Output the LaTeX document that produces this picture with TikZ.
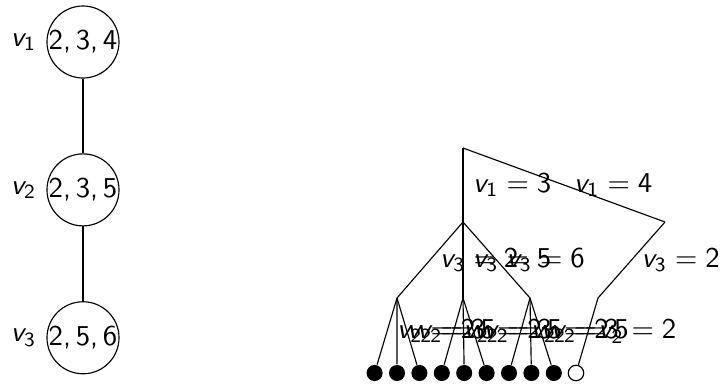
\documentclass[tikz,border=0pt]{standalone}
\usetikzlibrary{positioning}

% sans-serif math, as on slides
\DeclareMathVersion{sans}
\SetSymbolFont{operators}{sans}{OT1}{cmss}{m}{n}
\SetSymbolFont{letters}{sans}{OT1}{cmss}{m}{sl}
\mathcode`\,="602C

\begin{document}
\mathversion{sans}
\begin{tikzpicture}[
		x=0.348pt, y=-0.348pt,
		bag/.style={circle, draw, inner sep=0pt},
		leaf/.style={circle, fill, inner sep=0pt, minimum size=5.6pt},
		goal/.style={circle, draw, inner sep=0pt, minimum size=5.4pt}
		]
		\useasboundingbox (0,0) rectangle (723,383);
		
		% --- path of bags ---
		\node[bag, label={left:$v_1$}] (b1) at (83,42) {$2, 3, 4$};
		\node[bag, label={left:$v_2$}, below=26pt of b1] (b2) {$2, 3, 5$};
		\node[bag, label={left:$v_3$}, below=26pt of b2] (b3) {$2, 5, 6$};
		\draw (b1) -- (b2);
		\draw (b2) -- (b3);
		
		% --- search tree ---
		\coordinate (root) at (463,148);
		\coordinate (x3) at (463,222);
		\coordinate (x4) at (665,222);
		\coordinate (y2) at (397,298);
		\coordinate (y5) at (463,298);
		\coordinate (y6) at (530,298);
		\coordinate (z2) at (598,298);
		
		\draw (root) -- node[right] {$v_1 = 3$} (x3);
		\draw (root) -- node[right] {$v_1 = 4$} (x4);
		\draw (x3) -- node[right] {$v_3 = 2$} (y2);
		\draw (x3) -- node[right] {$v_3 = 5$} (y5);
		\draw (x3) -- node[right] {$v_3 = 6$} (y6);
		\draw (x4) -- node[right] {$v_3 = 2$} (z2);
		
		% leaves
		\foreach \i in {1,...,9}
			\node[leaf] (l\i) at ({352.2+22.4*\i},373) {};
		\node[goal] (l10) at (576,373) {};
		
		\foreach \p [count=\g] in {y2,y5,y6}
			\foreach \v [count=\k] in {2,3,5} {
				\pgfmathtruncatemacro\i{3*(\g-1)+\k}
				\draw (\p) -- node[right] {$v_2 = \v$} (l\i);
			}
		\draw (z2) -- node[right] {$v_2 = 2$} (l10);
		
	\end{tikzpicture}
\end{document}
